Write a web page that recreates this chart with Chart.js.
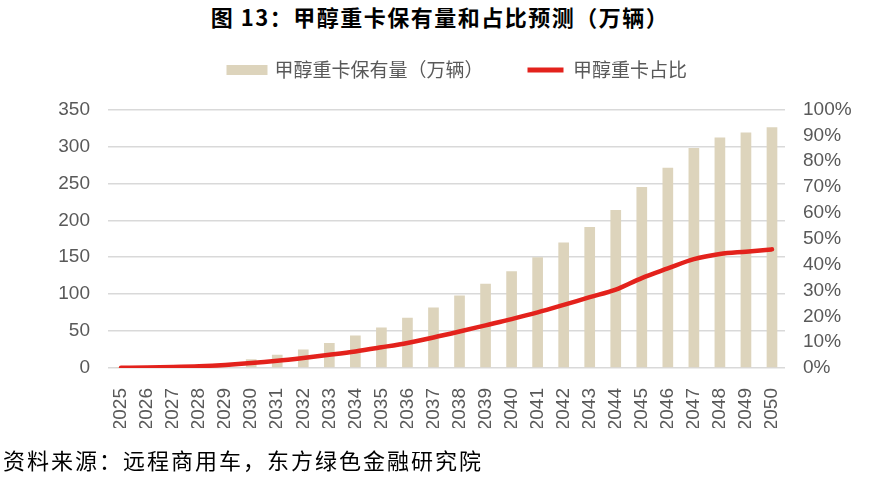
<!DOCTYPE html>
<html>
<head>
<meta charset="utf-8">
<script src="https://cdn.jsdelivr.net/npm/chart.js@4"></script>
<style>
    body { margin: 0; background: #fff; }
    #wrap { position: relative; width: 872px; height: 477px; }
    #chartTitle {
        position: absolute; left: 0; top: 0; width: 880px;
        text-align: center; line-height: 36px;
        font: bold 22px "Noto Sans CJK SC"; letter-spacing: 1.5px; color: #000;
        text-spacing-trim: space-all;
    }
    #chartSource {
        position: absolute; left: 3px; top: 443px; line-height: 30px;
        font: 22px "Noto Sans CJK SC"; letter-spacing: 2px; color: #000;
        white-space: nowrap; text-spacing-trim: space-all;
    }
    canvas { position: absolute; left: 0; top: 0; }
</style>
</head>
<body>
<div id="wrap">
    <div id="chartTitle">图 13：甲醇重卡保有量和占比预测（万辆）</div>
    <canvas id="fleetChart" width="872" height="477"></canvas>
    <div id="chartSource">资料来源：远程商用车，东方绿色金融研究院</div>
</div>
<script>
// data
const years = ['2025', '2026', '2027', '2028', '2029', '2030', '2031', '2032', '2033', '2034',
    '2035', '2036', '2037', '2038', '2039', '2040', '2041', '2042', '2043', '2044',
    '2045', '2046', '2047', '2048', '2049', '2050'];
const fleet = [0.2, 0.5, 1, 2, 5, 12, 18, 25, 34, 44,
    55, 68, 82, 98, 114, 131, 150, 170, 191, 214,
    245, 271, 298, 312, 319, 326];
const share = [0.1, 0.2, 0.4, 0.7, 1.2, 1.9, 2.8, 3.9, 5.1, 6.4,
    8.0, 9.7, 11.8, 14.1, 16.5, 18.9, 21.5, 24.4, 27.4, 30.3,
    34.8, 38.5, 42.1, 44.1, 45.0, 45.9];
const fleetLabel = '甲醇重卡保有量（万辆）';
const shareLabel = '甲醇重卡占比';

const barColor = '#DDD4BC';
const lineColor = '#E3221C';
const textColor = '#595959';
const tickFont = { family: '"Liberation Sans", Arial, sans-serif', size: 19 };

// push the plot area down below the legend
const legendGap = {
    id: 'legendGap',
    beforeInit(chart) {
        const fit = chart.legend.fit;
        chart.legend.fit = function () {
            fit.bind(chart.legend)();
            this.height += 20;
        };
    }
};

const ctx = document.getElementById('fleetChart');

new Chart(ctx, {
    type: 'bar',
    data: {
        labels: years,
        datasets: [
            {
                label: fleetLabel,
                data: fleet,
                backgroundColor: barColor,
                barPercentage: 0.41,
                categoryPercentage: 1,
                yAxisID: 'y',
                order: 1
            },
            {
                type: 'line',
                label: shareLabel,
                data: share,
                borderColor: lineColor,
                backgroundColor: lineColor,
                borderWidth: 4.5,
                borderCapStyle: 'round',
                pointRadius: 0,
                cubicInterpolationMode: 'monotone',
                yAxisID: 'y1',
                order: 0
            }
        ]
    },
    options: {
        responsive: false,
        animation: false,
        layout: { padding: { left: 44, top: 16.5, right: 0, bottom: 49 } },
        plugins: {
            tooltip: { enabled: false },
            legend: {
                position: 'top',
                labels: {
                    boxWidth: 36,
                    boxHeight: 5,
                    padding: 44,
                    color: textColor,
                    font: { family: '"Noto Sans CJK SC"', size: 19 },
                    generateLabels(chart) {
                        return chart.data.datasets.map((ds, i) => ({
                            text: ds.label,
                            fillStyle: i === 0 ? barColor : lineColor,
                            strokeStyle: i === 0 ? barColor : lineColor,
                            lineWidth: i === 0 ? 5 : 0,
                            fontColor: textColor,
                            hidden: !chart.isDatasetVisible(i),
                            datasetIndex: i
                        }));
                    }
                }
            }
        },
        scales: {
            x: {
                grid: { display: false },
                border: { display: false },
                ticks: {
                    color: textColor,
                    font: tickFont,
                    minRotation: 90,
                    maxRotation: 90,
                    padding: 12,
                    autoSkip: false
                },
                afterFit(scale) { scale.height = 60; }
            },
            y: {
                position: 'left',
                min: 0,
                max: 350,
                grid: { color: '#D9D9D9', lineWidth: 1.5, drawTicks: false },
                border: { display: false },
                ticks: { stepSize: 50, color: textColor, font: tickFont, padding: 18, autoSkip: false },
                afterFit(scale) { scale.width = 64; }
            },
            y1: {
                position: 'right',
                min: 0,
                max: 100,
                grid: { display: false, drawTicks: false },
                border: { display: false },
                ticks: {
                    stepSize: 10,
                    autoSkip: false,
                    color: textColor,
                    font: tickFont,
                    padding: 18,
                    callback: (v) => v + '%'
                },
                afterFit(scale) { scale.width = 87; }
            }
        }
    },
    plugins: [legendGap]
});
</script>
</body>
</html>
